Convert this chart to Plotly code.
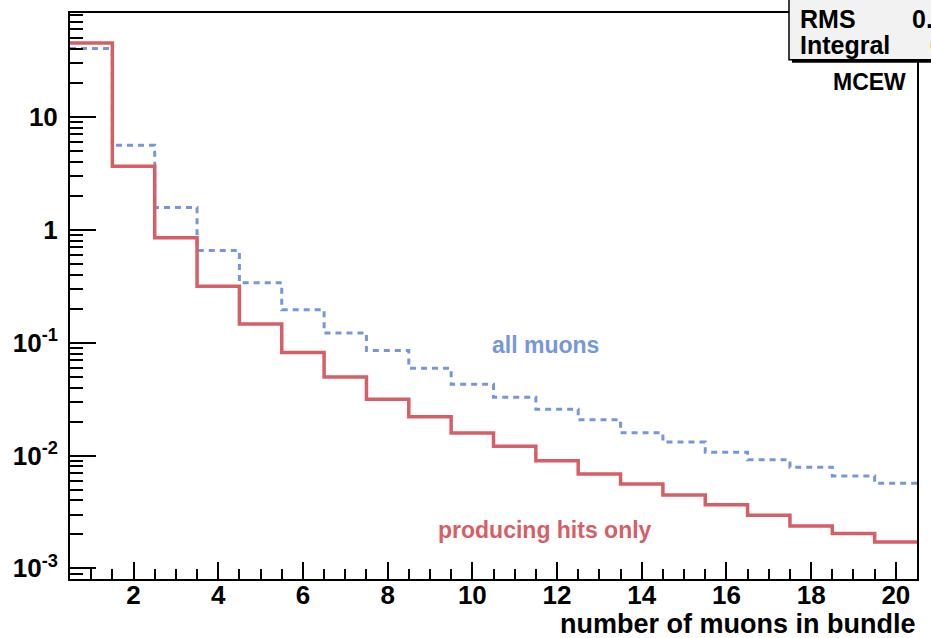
import plotly.graph_objects as go

# ---- data ----
n_muons = list(range(1, 21))
all_muons = [40.5, 5.60, 1.58, 0.654, 0.340, 0.196, 0.122, 0.0851, 0.0592, 0.0428,
             0.0329, 0.0257, 0.0207, 0.0159, 0.0132, 0.0107, 0.00916, 0.00789, 0.00658, 0.00568]
hits_only = [45.1, 3.66, 0.851, 0.316, 0.146, 0.0817, 0.0496, 0.0316, 0.0221, 0.0158,
             0.0121, 0.00898, 0.00685, 0.00560, 0.00446, 0.00366, 0.00296, 0.00238, 0.00204, 0.00171]
y_tickvals = [1e-3, 1e-2, 1e-1, 1, 10]
y_ticktext = ["10<sup>-3</sup>", "10<sup>-2</sup>", "10<sup>-1</sup>", "1", "10"]
x_tickvals = list(range(2, 21, 2))

W, H = 931, 638
L, R, T, B = 70, 14, 11, 59
PW, PH = W - L - R, H - T - B

def px(x):
    return (x - L) / PW

def py(y):
    return (H - B - y) / PH

def step(centers, vals):
    xs = [c - 0.5 for c in centers] + [centers[-1] + 0.5]
    ys = list(vals) + [vals[-1]]
    return xs, ys

RED = "#d65f66"
BLUE = "#7797dc"
FONT = "Liberation Sans"

fig = go.Figure()
xa, ya = step(n_muons, all_muons)
fig.add_trace(go.Scatter(x=xa, y=ya, mode="lines", line_shape="hv",
                         line=dict(color=BLUE, width=3, dash="6px,5px"),
                         showlegend=False, hoverinfo="skip"))
xh, yh = step(n_muons, hits_only)
fig.add_trace(go.Scatter(x=xh, y=yh, mode="lines", line_shape="hv",
                         line=dict(color=RED, width=3.5),
                         showlegend=False, hoverinfo="skip"))

minor_y = []
for e in range(-4, 2):
    for m in range(2, 10):
        minor_y.append(m * 10 ** e)

fig.update_layout(
    width=W, height=H,
    margin=dict(l=L, r=R, t=T, b=B, pad=0),
    plot_bgcolor="white", paper_bgcolor="white",
    font=dict(family=FONT, color="black"),
    xaxis=dict(range=[0.5, 20.5], tickvals=x_tickvals, ticks="inside", ticklen=17,
               tickwidth=2, tickcolor="black", showgrid=False, zeroline=False,
               showline=True, linecolor="black", linewidth=2, mirror=True,
               ticklabelstandoff=-8,
               tickfont=dict(family=FONT, size=26, weight="bold", color="black"),
               minor=dict(dtick=0.5, tick0=0.5, ticks="inside", ticklen=10,
                          tickwidth=2, tickcolor="black", showgrid=False)),
    yaxis=dict(type="log", range=[-3.094, 1.921], tickvals=y_tickvals, ticktext=y_ticktext,
               ticks="inside", ticklen=26, tickwidth=2, tickcolor="black",
               showgrid=False, zeroline=False, showline=True, linecolor="black",
               linewidth=2, mirror=True, ticklabelstandoff=5,
               tickfont=dict(family=FONT, size=26, weight="bold", color="black"),
               minor=dict(tickvals=minor_y, ticks="inside", ticklen=13, tickwidth=2,
                          tickcolor="black", showgrid=False)),
)

# stats box (partially outside the canvas)
fig.add_shape(type="rect", xref="paper", yref="paper",
              x0=px(792), x1=px(960), y0=py(61), y1=py(-20),
              fillcolor="black", line=dict(width=0), layer="above")
fig.add_shape(type="rect", xref="paper", yref="paper",
              x0=px(789), x1=px(960), y0=py(58), y1=py(-20),
              fillcolor="#f2f2f2", line=dict(color="black", width=1.5), layer="above")

def text(s, x, y, color="black", size=24, xanchor="left"):
    fig.add_annotation(text=s, x=px(x), y=py(y), xref="paper", yref="paper",
                       xanchor=xanchor, yanchor="middle", showarrow=False,
                       font=dict(family=FONT, size=size, color=color, weight="bold"))

text("RMS", 798, 17, size=25)
text("0.", 910, 17, size=25)
text("Integral", 798, 43, size=25)
text("6", 928, 43, size=25)
text("MCEW", 869, 80, size=23, xanchor="center")
text("all muons", 545, 344, color=BLUE, size=23, xanchor="center")
text("producing hits only", 545, 530, color=RED, size=23, xanchor="center")
text("number of muons in bundle", 917, 624, size=27, xanchor="right")

fig.write_html("out.html")
